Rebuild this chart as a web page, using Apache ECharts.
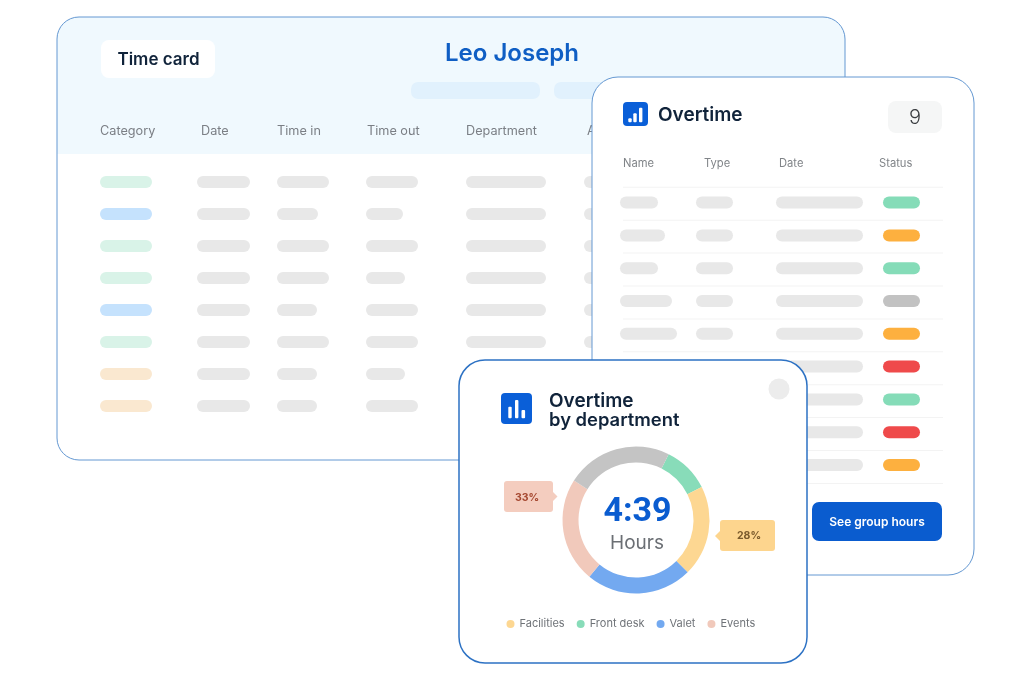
<!DOCTYPE html>
<html><head><meta charset="utf-8">
<style>html,body{margin:0;padding:0;background:#fff}#c{width:1024px;height:674px}</style>
<script src="https://cdn.jsdelivr.net/npm/echarts@6/dist/echarts.min.js"></script>
</head><body><div id="c"></div>
<script>
// ---- chart data ----
const departments = ['Front desk', 'Facilities', 'Valet', 'Events', 'Other'];
const departmentValues = [37, 72, 84, 83, 84];
const departmentColors = ['#88dcb9', '#fdd792', '#73a9f0', '#f1c9bb', '#c4c4c4'];
const legendNames = ['Facilities', 'Front desk', 'Valet', 'Events'];
const totalLabel = '4:39';
const totalUnit = 'Hours';
const calloutEvents = '33%';
const calloutFacilities = '28%';
const timeCardHeaders = ['Category', 'Date', 'Time in', 'Time out', 'Department', 'A'];
const overtimeHeaders = ['Name', 'Type', 'Date', 'Status'];
const categoryKinds = ['green', 'blue', 'green', 'green', 'blue', 'green', 'peach', 'peach'];
const timeInEnds = [329, 318, 329, 329, 317, 329, 317, 317];
const timeOutEnds = [418, 403, 418, 405, 418, 418, 405, 418];
const statusKinds = ['ok', 'warn', 'ok', 'none', 'warn', 'bad', 'ok', 'bad', 'warn'];
const nameEnds = [658, 665, 658, 672, 677, 660, 660, 660, 660];

// ---- decoration helpers ----
const FONT = 'Inter, "Noto Sans", sans-serif';
const G = [];
const rect = (x, y, w, h, r, fill, stroke, lw) => G.push({type:'rect', silent:true, z:1,
  shape:{x, y, width:w, height:h, r}, style:{fill: fill || 'none', stroke: stroke || 'none', lineWidth: lw || 0}});
const pill = (x0, x1, cy, fill) => rect(x0, cy - 6, x1 - x0, 12, 6, fill);
const text = (x, y, t, size, weight, fill, align, family) => G.push({type:'text', silent:true, z:1, x, y,
  style:{text:t, font:`${weight} ${size}px ${family || FONT}`, fill, align:align||'left', verticalAlign:'middle'}});
const GREY = '#e8e8e8';
const catCol = {green:'#d9f3e8', blue:'#c5e2fd', peach:'#fae8d0'};
const stCol = {ok:'#85dcb8', warn:'#fdb03f', none:'#c2c2c2', bad:'#ef4a4b'};

// card 1: time card
rect(57, 17, 788, 443, 22, '#ffffff');
rect(57, 17, 788, 137, [22,22,0,0], '#f0f9fe');
rect(57, 17, 788, 443, 22, null, '#6498d2', 1);
rect(101, 40, 114, 38, 8, '#ffffff');
text(158.5, 60, 'Time card', 17, 600, '#10233a', 'center');
text(512, 54, 'Leo Joseph', 24, 600, '#0f5ec4', 'center');
rect(411, 82, 129, 17, 7, '#e1f1fd');
rect(554, 82, 100, 17, 7, '#e1f1fd');
[100, 201, 277, 367, 466, 587].forEach((x, i) => text(x, 131, timeCardHeaders[i], 12.7, 400, '#7b7f85'));
categoryKinds.forEach((k, i) => {
  const y = 182 + i * 32;
  pill(100, 152, y, catCol[k]);
  pill(197, 250, y, GREY);
  pill(277, timeInEnds[i], y, GREY);
  pill(366, timeOutEnds[i], y, GREY);
  pill(466, 546, y, GREY);
  pill(584, 640, y, GREY);
});

// card 2: overtime
rect(592, 77, 382, 498, 26, '#ffffff', '#6498d2', 1);
rect(623, 102, 25, 24, 4, '#0a5fd8');
rect(628.3, 118.3, 3.4, 4, 1, '#fff');
rect(633.3, 113.3, 3.4, 9, 1, '#fff');
rect(639, 107.7, 3.4, 14.6, 1, '#fff');
text(658, 115, 'Overtime', 19, 600, '#10233a');
rect(888, 101, 54, 32, 8, '#f5f6f6');
text(915, 117.5, '9', 20, 300, '#3a3d40', 'center');
[623, 704, 779, 879].forEach((x, i) => text(x, 163.5, overtimeHeaders[i], 11.2, 400, '#808488'));
statusKinds.forEach((k, i) => {
  const y = 202.6 + i * 32.8, ly = 186.8 + i * 32.9;
  rect(623, ly, 320, 1, 0, '#f3f3f3');
  pill(620, nameEnds[i], y, GREY);
  pill(696, 733, y, GREY);
  pill(776, 863, y, GREY);
  pill(883, 920, y, stCol[k]);
});
rect(623, 483, 320, 1, 0, '#f3f3f3');
rect(812, 502, 130, 39, 7, '#0a5ccf');
text(877, 522.5, 'See group hours', 12, 600, '#ffffff', 'center');

// card 3: overtime by department
rect(459, 360, 348, 303, 26, '#ffffff', '#2d72c4', 1.5);
rect(501, 393, 31, 31, 4, '#0a5fd8');
rect(508.3, 406.7, 3.4, 11.6, 1, '#fff');
rect(515, 400, 3.4, 18.3, 1, '#fff');
rect(521.5, 410, 3.6, 8.3, 1, '#fff');
text(549, 401, 'Overtime', 19, 600, '#10233a');
text(549, 420, 'by department', 18.4, 600, '#10233a');
G.push({type:'circle', silent:true, z:1, shape:{cx:779, cy:389, r:10.5}, style:{fill:'#ececec'}});
text(637.5, 512, totalLabel, 34, 700, '#0a5cd0', 'center', 'Roboto');
text(637, 543, totalUnit, 19, 400, '#6b6f74', 'center');
// callouts
rect(504, 481, 49, 31, 3, '#f4cdbf');
G.push({type:'polygon', silent:true, z:1, shape:{points:[[552,491],[557.5,496.5],[552,502]]}, style:{fill:'#f4cdbf'}});
text(527, 498, calloutEvents, 10.5, 700, '#a5472f', 'center');
rect(720, 520, 55, 31, 3, '#fdd58e');
G.push({type:'polygon', silent:true, z:1, shape:{points:[[721,530],[715,536],[721,542]]}, style:{fill:'#fdd58e'}});
text(749, 536, calloutFacilities, 10.5, 700, '#7a5a2c', 'center');

const chart = echarts.init(document.getElementById('c'), null, {renderer:'canvas', width:1024, height:674});
chart.setOption({
  animation:false,
  backgroundColor:'#ffffff',
  graphic:{elements:G},
  legend:{
    data: legendNames, left:501.5, top:613.5, icon:'circle', itemWidth:8, itemHeight:8, itemGap:12,
    selectedMode:false, z:5,
    textStyle:{fontFamily:FONT, fontSize:11, color:'#6f7378', padding:[1,0,0,0]}
  },
  tooltip:{show:false},
  series:[{
    type:'pie', z:5, silent:true, center:[636,520], radius:[57.5,73.5], startAngle:63.6, clockwise:true,
    label:{show:false}, labelLine:{show:false},
    data: departments.map((name,i)=>({name, value:departmentValues[i], itemStyle:{color:departmentColors[i]}}))
  }]
});
</script></body></html>
